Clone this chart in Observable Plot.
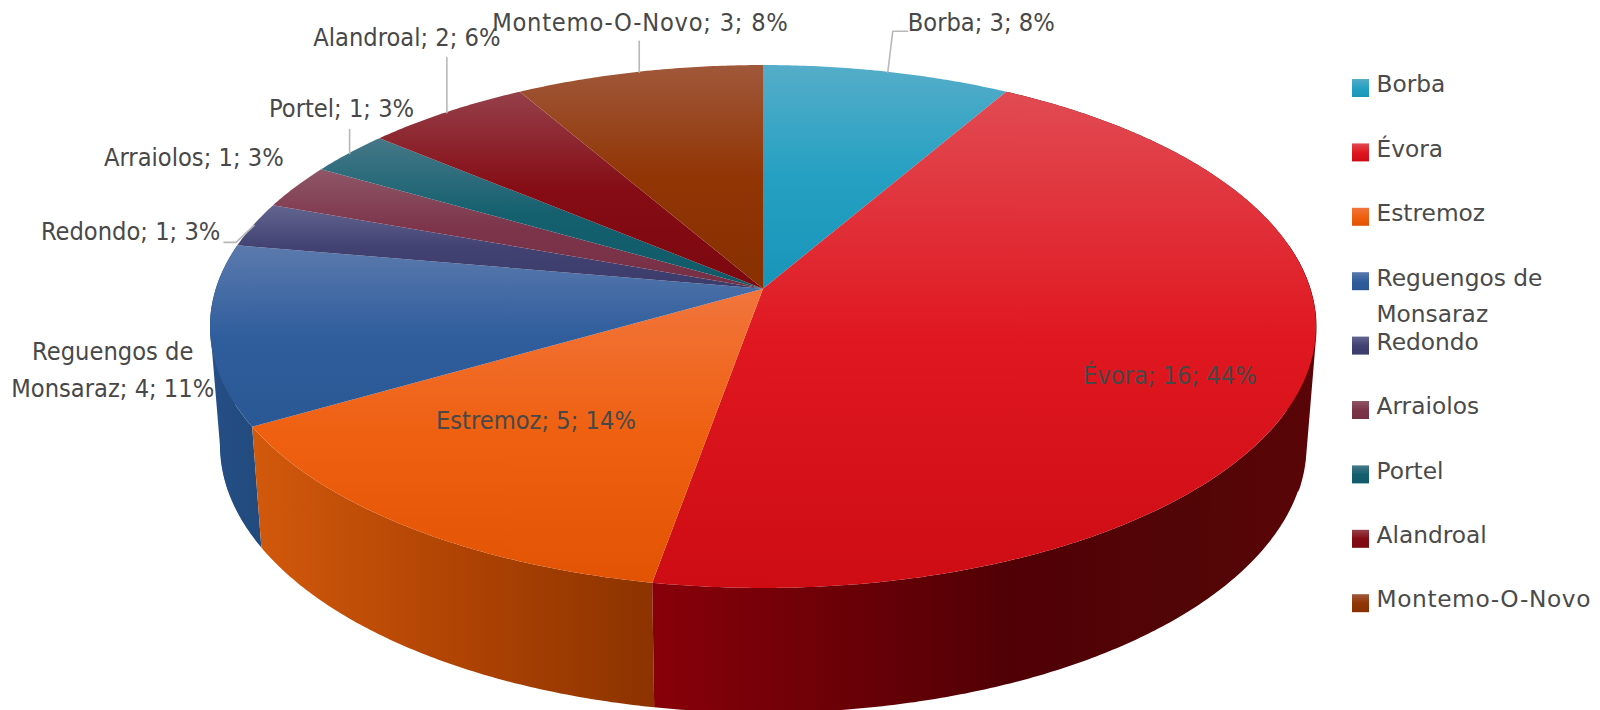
<!DOCTYPE html>
<html>
<head>
<meta charset="utf-8">
<style>html,body{margin:0;padding:0;background:#fff}svg{display:block}</style>
<script src="https://cdn.jsdelivr.net/npm/d3@7"></script>
<script src="https://cdn.jsdelivr.net/npm/@observablehq/plot@0.6"></script>
</head>
<body>
<div id="chart"></div>
<script>
// Data
const categories = ["Borba","Évora","Estremoz","Reguengos de Monsaraz","Redondo","Arraiolos","Portel","Alandroal","Montemo-O-Novo"];
const counts = [3,16,5,4,1,1,1,2,3];
const percents = [8,44,14,11,3,3,3,6,8];
const topColors = [
  ["#55adc9","#25a0c2","#1795b9"],
  ["#e14b53","#e01720","#cd0c13"],
  ["#f1753c","#ef6010","#e25303"],
  ["#5b7aad","#305e9d","#2a5894"],
  ["#636590","#414272","#3b3c6c"],
  ["#8f5668","#7c344a","#763044"],
  ["#457888","#15606f","#0f5968"],
  ["#95404a","#850c14","#7c0810"],
  ["#a0583a","#913505","#883000"]
];
const wallStops = {
  1: [[0,"#880009"],[.54,"#500005"],[.8,"#520506"],[1,"#5a0508"]],
  2: [[0,"#d2590c"],[.5,"#b04403"],[1,"#8c3300"]],
  3: [[0,"#254f85"],[1,"#214a7e"]]
};
// Layout of the drawing (not data)
const W = 1600, H = 710;
const cx = 763, cy = 288.7, R = 547.2, kR = 256, p = 0.1446;
const bx = 0.982, by = 1.0235, cyBottom = 406.4;
const labelFont = "'DejaVu Sans Condensed','DejaVu Sans',sans-serif";
const legendFont = "'DejaVu Sans',sans-serif";
const labelOffsets = [[93.5,-53],[-134.6,-9.3],[128.5,-109.5],[-98,32],[-123.4,3.2],[-102.3,-32.7],[-8,-48],[-40,-78.2],[1.2,-53.5]];
const leaderOffsets = [[[0,0],[5,-41],[20,-41]],[],[],[],[[0,0],[-18,17],[-30,17]],[],[[0,0],[0,-24]],[[0,0],[0,-55]],[[0,0],[0,-31]]];
const silhouetteSpan = {1:[80,108],3:[252,276]};

const total = d3.sum(counts);
let acc = 0;
const slices = counts.map((c,i)=>{
  const a0 = acc/total*360; acc += c; const a1 = acc/total*360;
  return {i,name:categories[i],count:c,pct:percents[i],a0,a1,mid:(a0+a1)/2};
});
function project(a){
  const r = a*Math.PI/180, ux = Math.sin(r), uy = Math.cos(r), w = 1+p*uy;
  return [cx+R*ux/w, cy-kR*uy/w];
}
function below([x,y]){ return [cx+(x-cx)*bx, cyBottom+(y-cy)*by]; }
function arc(a0,a1){
  const n = Math.max(2,Math.ceil(Math.abs(a1-a0))*2), out = [];
  for(let k=0;k<=n;k++) out.push(a0+(a1-a0)*k/n);
  return out;
}
const scales = {x:{domain:[0,W],range:[0,W]},y:{domain:[0,H],range:[0,H]}};
const marks = [];
const wallExtent = {};
// walls
[3,2,1].forEach(i=>{
  const s = slices[i];
  const rows = arc(s.a0,s.a1).map(a=>{const t=project(a),b=below(t);return {x1:t[0],y1:t[1],x2:b[0],y2:b[1]};});
  wallExtent[i] = i===1
    ? [rows[rows.length-1].x1, d3.max(rows,r=>r.x1)]
    : [d3.min(rows,r=>r.x1), d3.max(rows,r=>r.x2)];
  marks.push(Plot.area(rows,{x1:"x1",y1:"y1",x2:"x2",y2:"y2",fill:`url(#wall${i})`,curve:"linear"}));
  if (silhouetteSpan[i]) {
    const [u,v] = silhouetteSpan[i];
    const hull = d3.polygonHull(arc(u,v).flatMap(a=>{const t=project(a);return [t,below(t)];}));
    marks.push(Plot.line(hull,{x:d=>d[0],y:d=>d[1],fill:`url(#wall${i})`,stroke:"none",curve:"linear"}));
  }
});
// tops
slices.forEach(s=>{
  const pts = arc(s.a0,s.a1).map(a=>{const t=project(a);return {x1:cx,y1:cy,x2:t[0],y2:t[1]};});
  marks.push(Plot.area(pts,{x1:"x1",y1:"y1",x2:"x2",y2:"y2",fill:`url(#top${s.i})`,curve:"linear"}));
});
// leaders
const leaderData = slices.flatMap(s=>{
  const rim = project(s.mid);
  return leaderOffsets[s.i].map(o=>({z:s.i,x:rim[0]+o[0],y:rim[1]+o[1]}));
});
marks.push(Plot.line(leaderData,{x:"x",y:"y",z:"z",stroke:"#b8b8b8",strokeWidth:1.6,curve:"linear"}));
// labels
const labelData = slices.map(s=>{
  const rim = project(s.mid), o = labelOffsets[s.i];
  const txt = `${s.name}; ${s.count}; ${s.pct}%`.replace("Reguengos de Monsaraz","Reguengos de\nMonsaraz");
  return {x:rim[0]+o[0],y:rim[1]+o[1],txt};
});
marks.push(Plot.text(labelData,{x:"x",y:"y",text:"txt",fontSize:25.2,fontFamily:labelFont,fill:"#484848",textAnchor:"middle",lineAnchor:"middle",lineHeight:1.46}));
// legend
const legendX = 1352, legendTop = 88, legendStep = 64.4;
slices.forEach(s=>{
  const yc = legendTop+s.i*legendStep;
  marks.push(Plot.rect([s],{x1:()=>legendX,x2:()=>legendX+17,y1:()=>yc-9,y2:()=>yc+9,fill:`url(#top${s.i})`}));
});
const legendData = slices.map(s=>({
  x:1376,
  y:legendTop+s.i*legendStep-(s.i===3?3:4),
  txt:s.name.replace("Reguengos de Monsaraz","Reguengos de\nMonsaraz")
}));
marks.push(Plot.text(legendData,{x:"x",y:"y",text:"txt",fontSize:23.3,fontFamily:legendFont,fill:"#4a4a4a",textAnchor:"start",lineAnchor:"top",dy:-17.2,lineHeight:1.51}));

const chart = Plot.plot({width:W,height:H,margin:0,...scales,axis:null,style:{background:"#fff",overflow:"hidden"},marks});
// gradients
const defs = d3.select(chart).insert("defs",":first-child");
topColors.forEach((cols,i)=>{
  const g = defs.append("linearGradient").attr("id",`top${i}`).attr("x1",0).attr("y1",0).attr("x2",0).attr("y2",1);
  [0,.5,1].forEach((o,k)=>g.append("stop").attr("offset",o).attr("stop-color",cols[k]));
});
Object.entries(wallStops).forEach(([i,stops])=>{
  const [xa,xb] = wallExtent[i];
  const g = defs.append("linearGradient").attr("id",`wall${i}`).attr("gradientUnits","userSpaceOnUse")
    .attr("x1",xa).attr("y1",0).attr("x2",xb).attr("y2",0);
  stops.forEach(([o,c])=>g.append("stop").attr("offset",o).attr("stop-color",c));
});
// the long name's wide hyphens
chart.querySelectorAll("text").forEach(t=>{
  if (t.textContent.startsWith("Montemo")) t.style.letterSpacing = t.textContent.includes(";") ? "0.75px" : "0.6px";
});
document.getElementById("chart").append(chart);
</script>
</body>
</html>
